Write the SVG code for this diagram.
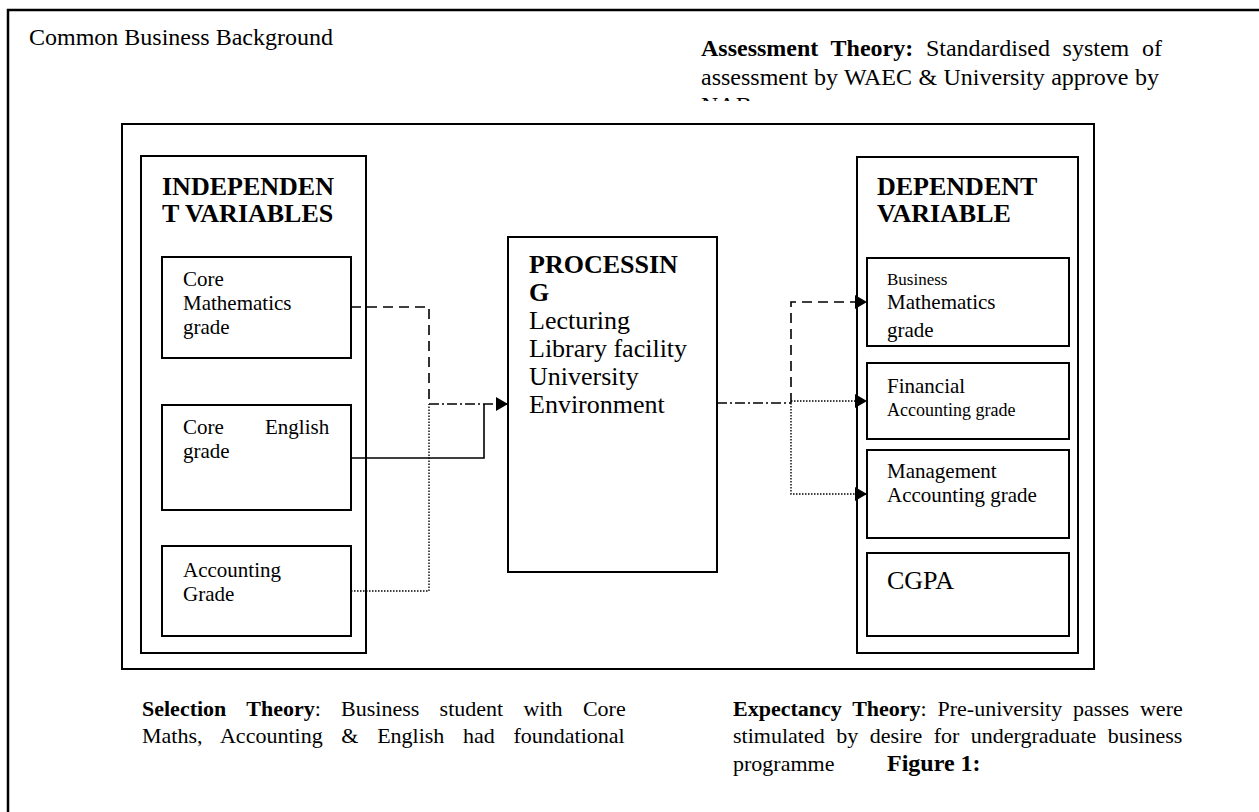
<svg xmlns="http://www.w3.org/2000/svg" width="1259" height="812" viewBox="0 0 1259 812">
<defs>
<style>
text{font-family:"Liberation Serif","Times New Roman",serif;fill:#000}
.b{font-weight:bold}
.box{fill:#fff;stroke:#000;stroke-width:2}
.c{fill:none;stroke:#000;stroke-width:1.6}
.dash{stroke-dasharray:10 6}
.dd{stroke-dasharray:10 3 2 3}
.dot{stroke-dasharray:1.5 1.5;stroke-width:1.4}
</style>
<marker id="ah" markerUnits="userSpaceOnUse" markerWidth="13" markerHeight="14" refX="12" refY="7" orient="auto">
<path d="M0,0 L12,7 L0,14 z" fill="#000"/>
</marker>
<clipPath id="clipA"><rect x="690" y="20" width="520" height="81"/></clipPath>
<clipPath id="clipB"><rect x="867" y="258" width="202" height="87"/></clipPath>
</defs>
<rect x="0" y="0" width="1259" height="812" fill="#fff"/>
<path d="M8,812 V10 H1259" fill="none" stroke="#000" stroke-width="2.5"/>
<text x="29" y="45" font-size="24">Common Business Background</text>
<g id="assessment" clip-path="url(#clipA)" font-size="24">
<text x="701" y="56" word-spacing="6.7"><tspan class="b">Assessment Theory:</tspan> Standardised system of</text>
<text x="701" y="85" word-spacing="0.4">assessment by WAEC &amp; University approve by</text>
<text x="701" y="113">NAB</text>
</g>
<rect x="122" y="124" width="972" height="545" class="box" stroke-width="2.5"/>
<g id="independent">
<rect x="141" y="156" width="225" height="497" class="box"/>
<text x="162" y="195" font-size="26" class="b">INDEPENDEN</text>
<text x="162" y="222" font-size="26" class="b">T VARIABLES</text>
</g>
<g id="coremath">
<rect x="162" y="257" width="189" height="101" class="box"/>
<text x="183" y="286" font-size="21">Core</text>
<text x="183" y="310" font-size="21">Mathematics</text>
<text x="183" y="334" font-size="21">grade</text>
</g>
<g id="coreenglish">
<rect x="162" y="405" width="189" height="105" class="box"/>
<text x="183" y="434" font-size="21">Core</text>
<text x="265" y="434" font-size="21">English</text>
<text x="183" y="458" font-size="21">grade</text>
</g>
<g id="accounting">
<rect x="162" y="546" width="189" height="90" class="box"/>
<text x="183" y="577" font-size="21">Accounting</text>
<text x="183" y="601" font-size="21">Grade</text>
</g>
<g id="processing">
<rect x="508" y="237" width="209" height="335" class="box"/>
<text x="529" y="273" font-size="26" class="b">PROCESSIN</text>
<text x="529" y="301" font-size="26" class="b">G</text>
<text x="529" y="329" font-size="26">Lecturing</text>
<text x="529" y="357" font-size="26">Library facility</text>
<text x="529" y="385" font-size="26">University</text>
<text x="529" y="413" font-size="26">Environment</text>
</g>
<g id="dependent">
<rect x="857" y="157" width="221" height="496" class="box"/>
<text x="877" y="195" font-size="26" class="b">DEPENDENT</text>
<text x="877" y="222" font-size="26" class="b">VARIABLE</text>
</g>
<g id="businessmath">
<rect x="867" y="258" width="202" height="88" class="box"/>
<g clip-path="url(#clipB)">
<text x="887" y="285" font-size="17">Business</text>
<text x="887" y="309" font-size="21">Mathematics</text>
<text x="887" y="337" font-size="21">grade</text>
</g>
</g>
<g id="financial">
<rect x="867" y="363" width="202" height="76" class="box"/>
<text x="887" y="393" font-size="21">Financial</text>
<text x="887" y="416" font-size="18">Accounting grade</text>
</g>
<g id="management">
<rect x="867" y="450" width="202" height="88" class="box"/>
<text x="887" y="478" font-size="21">Management</text>
<text x="887" y="502" font-size="21">Accounting grade</text>
</g>
<g id="cgpa">
<rect x="867" y="553" width="202" height="83" class="box"/>
<text x="887" y="589" font-size="26">CGPA</text>
</g>
<g id="connectors">
<path class="c dash" d="M351,307 H429 V404"/>
<path class="c dd" d="M429,404 H508" marker-end="url(#ah)"/>
<path class="c" d="M351,458 H484 V404"/>
<path class="c dot" d="M351,591 H429 V404"/>
<path class="c dd" d="M717,403 H791"/>
<path class="c dash" d="M791,403 V302 H867" marker-end="url(#ah)"/>
<path class="c dot" d="M791,401 H867" marker-end="url(#ah)"/>
<path class="c dot" d="M791,403 V494 H867" marker-end="url(#ah)"/>
</g>
<g id="selection" font-size="22">
<text x="142" y="716" word-spacing="14.8"><tspan class="b">Selection Theory</tspan>: Business student with Core</text>
<text x="142" y="743" word-spacing="13.2">Maths, Accounting &amp; English had foundational</text>
</g>
<g id="expectancy" font-size="22">
<text x="733" y="716" word-spacing="5.3"><tspan class="b">Expectancy Theory</tspan>: Pre-university passes were</text>
<text x="733" y="743" word-spacing="6">stimulated by desire for undergraduate business</text>
<text x="733" y="771">programme</text>
<text x="887" y="771" font-size="24" class="b">Figure 1:</text>
</g>
</svg>
